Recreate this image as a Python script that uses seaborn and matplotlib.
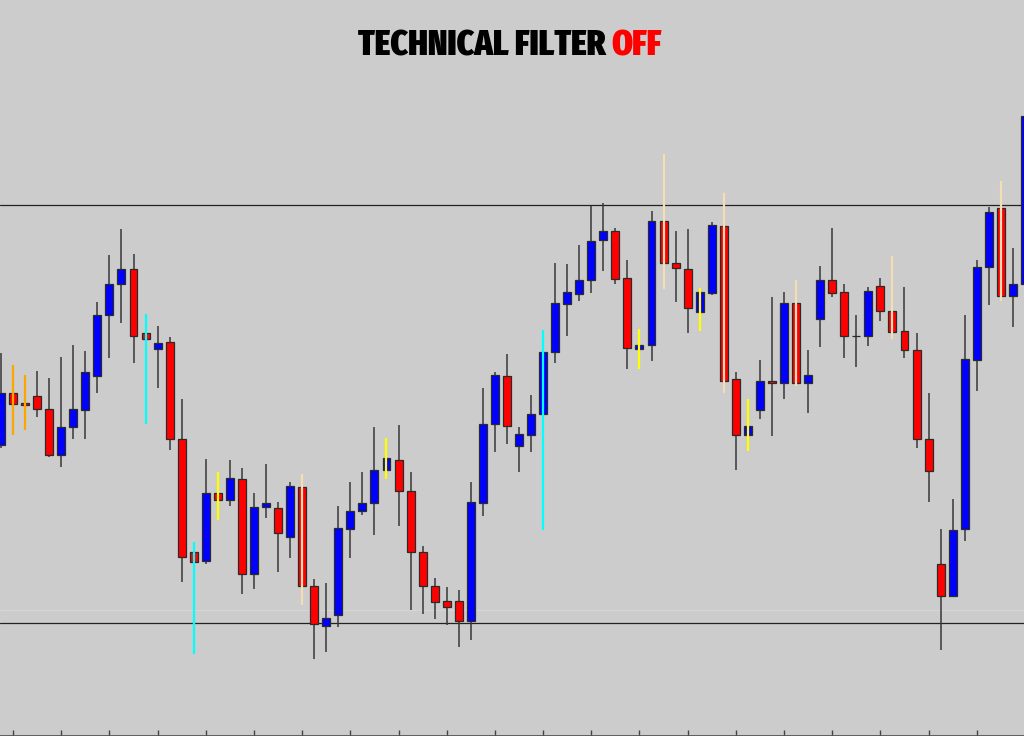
import numpy as np
import matplotlib
matplotlib.use("Agg")
import matplotlib.pyplot as plt
import seaborn as sns

# -------------------------------
# data (price levels)
# -------------------------------
opens = [1.0791, 1.0843, 1.0833, 1.0840, 1.0827, 1.0781, 1.0809, 1.0826, 1.0860, 1.0921,
         1.0952, 1.0967, 1.0903, 1.0887, 1.0894, 1.0797, 1.0684, 1.0675, 1.0743, 1.0736,
         1.0757, 1.0662, 1.0729, 1.0728, 1.0699, 1.0749, 1.0650, 1.0610, 1.0621, 1.0707,
         1.0725, 1.0733, 1.0766, 1.0776, 1.0745, 1.0684, 1.0650, 1.0635, 1.0635, 1.0615,
         1.0733, 1.0812, 1.0860, 1.0790, 1.0801, 1.0822, 1.0884, 1.0932, 1.0942, 1.0956,
         1.0996, 1.1005, 1.0958, 1.0887, 1.0891, 1.1015, 1.0973, 1.0967, 1.0924, 1.0943,
         1.1010, 1.0857, 1.0801, 1.0826, 1.0855, 1.0853, 1.0933, 1.0853, 1.0917, 1.0956,
         1.0944, 1.0900, 1.0900, 1.0950, 1.0925, 1.0905, 1.0886, 1.0797, 1.0672, 1.0640,
         1.0707, 1.0876, 1.0969, 1.1028, 1.0940, 1.0952]
highs = [1.0883, 1.0871, 1.0861, 1.0865, 1.0858, 1.0879, 1.0891, 1.0885, 1.0934, 1.0981,
         1.1007, 1.0982, 1.0922, 1.0910, 1.0899, 1.0837, 1.0694, 1.0777, 1.0764, 1.0776,
         1.0768, 1.0743, 1.0772, 1.0734, 1.0754, 1.0762, 1.0657, 1.0653, 1.0730, 1.0754,
         1.0764, 1.0809, 1.0798, 1.0811, 1.0764, 1.0690, 1.0658, 1.0649, 1.0646, 1.0754,
         1.0848, 1.0864, 1.0882, 1.0809, 1.0841, 1.0906, 1.0973, 1.0972, 1.0991, 1.1030,
         1.1033, 1.1008, 1.0976, 1.0907, 1.1025, 1.1082, 1.1005, 1.1007, 1.0948, 1.1014,
         1.1043, 1.0864, 1.0837, 1.0876, 1.0939, 1.0944, 1.0956, 1.0886, 1.0970, 1.1008,
         1.0952, 1.0921, 1.0949, 1.0958, 1.0980, 1.0949, 1.0903, 1.0843, 1.0707, 1.0737,
         1.0921, 1.0976, 1.1029, 1.1055, 1.0988, 1.1122]
lows = [1.0788, 1.0801, 1.0806, 1.0819, 1.0779, 1.0769, 1.0797, 1.0797, 1.0843, 1.0878,
        1.0913, 1.0873, 1.0812, 1.0848, 1.0786, 1.0654, 1.0582, 1.0672, 1.0716, 1.0730,
        1.0642, 1.0647, 1.0718, 1.0664, 1.0678, 1.0631, 1.0577, 1.0584, 1.0609, 1.0678,
        1.0721, 1.0701, 1.0757, 1.0710, 1.0626, 1.0622, 1.0617, 1.0611, 1.0589, 1.0596,
        1.0720, 1.0784, 1.0792, 1.0764, 1.0784, 1.0706, 1.0873, 1.0900, 1.0935, 1.0943,
        1.0965, 1.0952, 1.0867, 1.0867, 1.0875, 1.0947, 1.0934, 1.0903, 1.0905, 1.0941,
        1.0843, 1.0766, 1.0785, 1.0817, 1.0800, 1.0837, 1.0850, 1.0823, 1.0889, 1.0939,
        1.0878, 1.0869, 1.0890, 1.0915, 1.0897, 1.0878, 1.0788, 1.0734, 1.0586, 1.0640,
        1.0695, 1.0845, 1.0931, 1.0935, 1.0909, 1.0950]
closes = [1.0843, 1.0832, 1.0831, 1.0827, 1.0781, 1.0809, 1.0827, 1.0864, 1.0921, 1.0952,
          1.0967, 1.0900, 1.0897, 1.0893, 1.0797, 1.0679, 1.0674, 1.0743, 1.0736, 1.0758,
          1.0662, 1.0729, 1.0733, 1.0703, 1.0750, 1.0650, 1.0612, 1.0618, 1.0708, 1.0725,
          1.0733, 1.0766, 1.0778, 1.0745, 1.0684, 1.0650, 1.0634, 1.0629, 1.0615, 1.0734,
          1.0812, 1.0861, 1.0810, 1.0802, 1.0822, 1.0884, 1.0933, 1.0944, 1.0956, 1.0995,
          1.1005, 1.0957, 1.0888, 1.0891, 1.1015, 1.0973, 1.0968, 1.0928, 1.0944, 1.1011,
          1.0855, 1.0801, 1.0810, 1.0855, 1.0853, 1.0933, 1.0853, 1.0861, 1.0956, 1.0943,
          1.0900, 1.0900, 1.0945, 1.0925, 1.0904, 1.0886, 1.0797, 1.0765, 1.0640, 1.0706,
          1.0877, 1.0969, 1.1024, 1.0940, 1.0952, 1.1120]

# candles where the wick is painted by the filter
signal_bars = [1, 2, 12, 16, 18, 25, 32, 45, 53, 55, 58, 60, 62, 66, 74, 83]
signal_colors = ["orange", "orange", "cyan", "cyan", "yellow", "wheat", "yellow", "cyan",
                 "yellow", "wheat", "yellow", "wheat", "yellow", "wheat", "wheat", "wheat"]

resistance = 1.1031
support = 1.0613
support_faint = 1.0626

# -------------------------------
# plot
# -------------------------------
sns.set_theme(style="white", rc={"axes.facecolor": "#cccccc", "figure.facecolor": "#cccccc"})

o = np.array(opens); h = np.array(highs); l = np.array(lows); c = np.array(closes)
x = np.arange(len(o))
up = c >= o

fig = plt.figure(figsize=(10.24, 7.36), dpi=100)
ax = fig.add_axes([0, 0, 1, 1])

plain = np.array([i not in signal_bars for i in x])
ax.vlines(x[plain], l[plain], h[plain], color="#383838", lw=1.1, zorder=2)

body_lo = np.minimum(o, c)
body_h = np.abs(c - o)
ax.bar(x[up], body_h[up], bottom=body_lo[up], width=0.66, color="#0000ff",
       edgecolor="#2a2a2a", linewidth=0.9, zorder=3)
ax.bar(x[~up], body_h[~up], bottom=body_lo[~up], width=0.66, color="#ff0000",
       edgecolor="#2a2a2a", linewidth=0.9, zorder=3)

for i, col in zip(signal_bars, signal_colors):
    ax.vlines(i, l[i], h[i], color=col, lw=1.6, zorder=4)

ax.axhline(resistance, color="#222222", lw=0.9, zorder=1)
ax.axhline(support, color="#222222", lw=0.9, zorder=1)
ax.axhline(support_faint, color="#d6d6d6", lw=0.8, zorder=0)

ax.set_xlim(-0.083, 84.92)
ax.set_ylim(1.0500, 1.1236)
ax.set_yticks([])
ax.set_xticks(np.arange(1, 85, 4))
ax.set_xticklabels([])
ax.tick_params(axis="x", direction="in", length=4, width=1, color="#444444", bottom=True)
for side in ["left", "right", "top"]:
    ax.spines[side].set_visible(False)
ax.spines["bottom"].set_color("#555555")
ax.spines["bottom"].set_linewidth(2)

# title in two colours
fnt = dict(family=["Fira Sans Extra Condensed", "DejaVu Sans"], weight=900, size=24)
t1 = fig.text(0.35, 1 - 56 / 736, "TECHNICAL FILTER ", color="black", va="baseline", ha="left", **fnt)
t2 = ax.annotate("OFF", xy=(1, 0), xycoords=t1, va="bottom", ha="left", color="#ff0000", **fnt)
fig.canvas.draw()
r = fig.canvas.get_renderer()
total = t2.get_window_extent(r).x1 - t1.get_window_extent(r).x0
t1.set_fontsize(24 * 304 / total)
t2.set_fontsize(24 * 304 / total)
fig.canvas.draw()
total = t2.get_window_extent(r).x1 - t1.get_window_extent(r).x0
t1.set_x((510 - total / 2) / 1024)

fig.savefig("out.png", dpi=100, facecolor=fig.get_facecolor())
